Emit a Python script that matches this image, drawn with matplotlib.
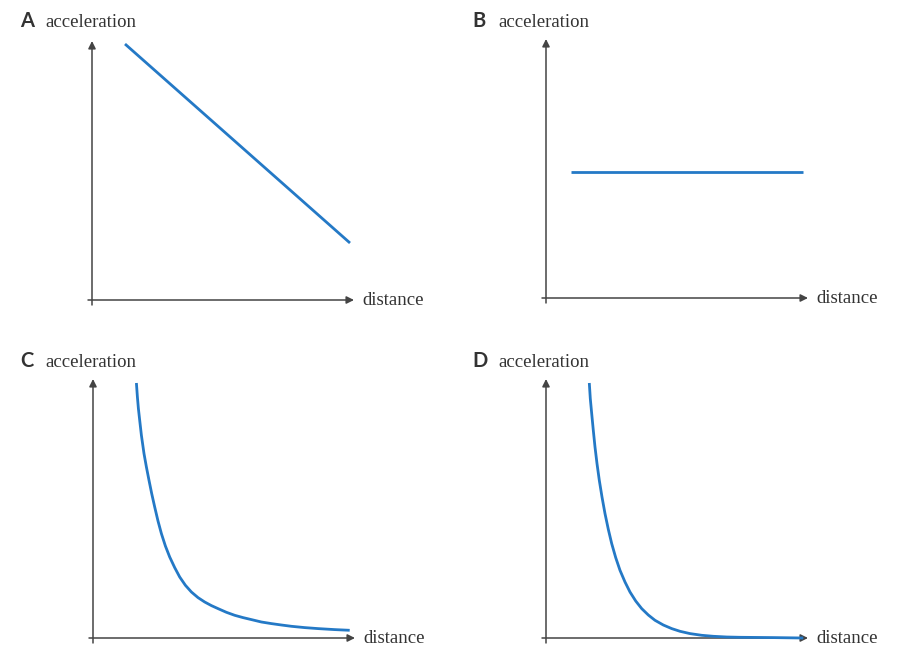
import matplotlib
matplotlib.use("Agg")
import matplotlib.pyplot as plt

# ---- data (units are arbitrary, origin at the axis corner) ----
panel_letters = ["A", "B", "C", "D"]
y_label = "acceleration"
x_label = "distance"

a_x = [33, 258]
a_y = [256, 57]

b_x = [25, 257]
b_y = [126, 126]

c_x = [43.4, 44.4, 45.4, 46.7, 48.4, 51.0, 53.4, 56.0, 58.7, 61.7, 65.0, 68.4,
       72.4, 76.7, 81.7, 86.7, 92.4, 98.4, 105.0, 111.7, 118.4, 125.0, 133.4,
       141.7, 150.0, 158.4, 168.4, 178.4, 188.4, 198.4, 211.7, 225.0, 241.7, 256.7]
c_y = [255.0, 241.0, 229.4, 217.7, 202.7, 184.4, 171.0, 157.7, 144.4, 131.0,
       117.0, 104.4, 92.0, 81.0, 70.4, 61.0, 52.7, 46.0, 40.4, 36.0, 32.4, 29.4,
       25.7, 22.7, 20.4, 18.4, 16.0, 14.4, 13.0, 11.7, 10.4, 9.4, 8.4, 7.7]

d_x = [43.3, 44.3, 45.7, 47.3, 49.0, 51.0, 53.3, 56.0, 59.0, 62.3, 65.7, 69.7,
       74.0, 79.0, 84.0, 89.7, 95.7, 102.3, 109.0, 117.3, 125.7, 134.0, 144.0,
       155.7, 167.3, 180.7, 194.0, 227.3, 257.3]
d_y = [255.0, 239.4, 224.4, 207.7, 191.0, 174.4, 157.7, 141.0, 124.4, 108.7,
       94.4, 80.4, 67.7, 56.0, 46.0, 37.0, 29.4, 23.0, 17.7, 13.0, 9.4, 6.7, 4.4,
       2.7, 1.7, 1.0, 0.7, 0.4, 0.0]

series_x = [a_x, b_x, c_x, d_x]
series_y = [a_y, b_y, c_y, d_y]

# ---- layout (pixels) ----
W, H = 908, 667
origins = [(92, 300), (546, 298), (93, 638), (546, 638)]
ax_w, ax_h = 262, 259
letter_pos = [(20, 27), (472, 27), (20, 367), (472, 367)]
ylab_pos = [(45, 27), (498, 27), (45, 367), (498, 367)]

BLUE = "#2479c6"
GREY = "#444444"
TEXT = "#333333"

fig = plt.figure(figsize=(W / 100, H / 100), dpi=100)
fig.patch.set_facecolor("white")

for i in range(4):
    ox, oy = origins[i]
    ax = fig.add_axes([ox / W, 1 - oy / H, ax_w / W, ax_h / H])
    ax.set_xlim(0, ax_w)
    ax.set_ylim(0, ax_h)
    ax.axis("off")
    # axes arrows
    ax.annotate("", xy=(1, 0), xytext=(-4 / ax_w, 0), xycoords="axes fraction",
                arrowprops=dict(arrowstyle="-|>", color=GREY, lw=1.1,
                                mutation_scale=11, shrinkA=0, shrinkB=0))
    ax.annotate("", xy=(0, 1), xytext=(0, -5 / ax_h), xycoords="axes fraction",
                arrowprops=dict(arrowstyle="-|>", color=GREY, lw=1.1,
                                mutation_scale=11, shrinkA=0, shrinkB=0))
    ax.plot(series_x[i], series_y[i], color=BLUE, lw=2.0, clip_on=False,
            solid_capstyle="butt", solid_joinstyle="round", zorder=3)

    lx, ly = letter_pos[i]
    fig.text(lx / W, 1 - ly / H, panel_letters[i], family="Lato",
             fontweight="bold", fontsize=14.5, color=TEXT,
             ha="left", va="baseline")
    tx, ty = ylab_pos[i]
    fig.text(tx / W, 1 - ty / H, y_label, family="Liberation Serif",
             fontsize=13.5, color=TEXT, ha="left", va="baseline")
    fig.text((ox + ax_w + 8) / W, 1 - (oy + 5) / H, x_label,
             family="Liberation Serif", fontsize=13.5, color=TEXT,
             ha="left", va="baseline")

fig.savefig("out.png", dpi=100, facecolor="white")
